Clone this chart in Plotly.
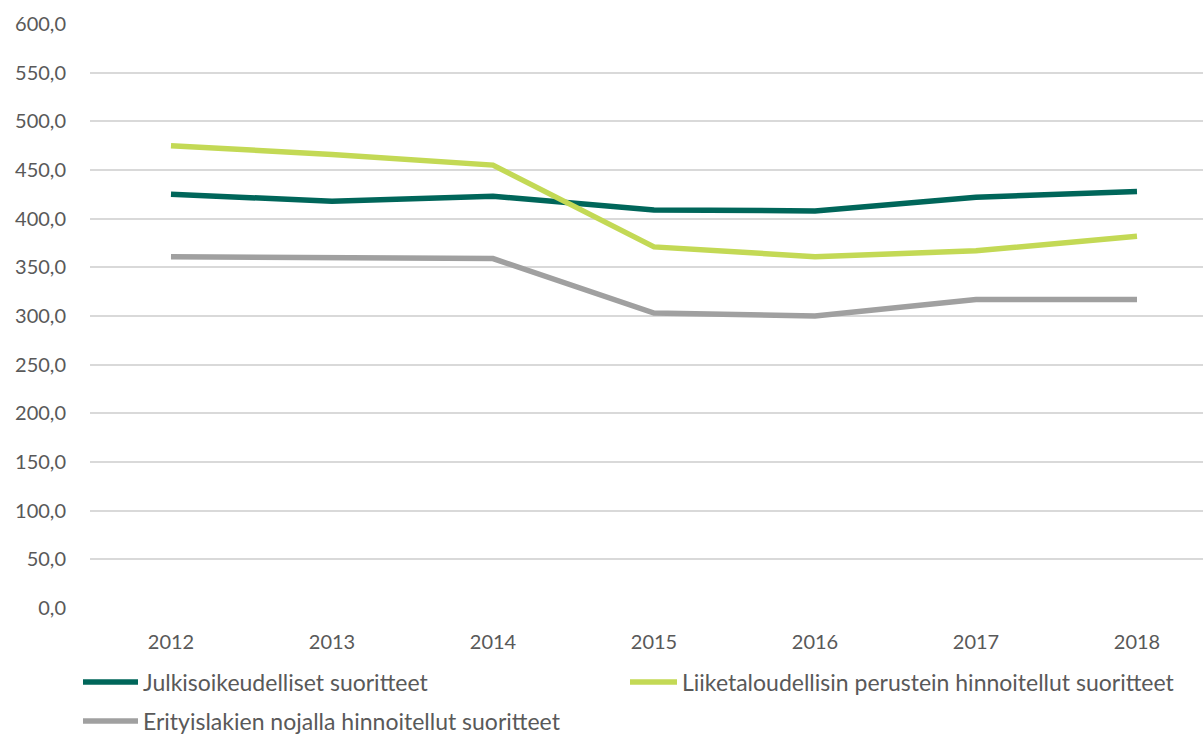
import plotly.graph_objects as go

years = ["2012", "2013", "2014", "2015", "2016", "2017", "2018"]
julkis = [425, 418, 423, 409, 408, 422, 428]
liike = [475, 466, 455, 371, 361, 367, 382]
erity = [361, 360, 359, 303, 300, 317, 317]

names = ["Julkisoikeudelliset suoritteet",
         "Liiketaloudellisin perustein hinnoitellut suoritteet",
         "Erityislakien nojalla hinnoitellut suoritteet"]
colors = ["#00665A", "#C3D955", "#A0A0A0"]

W, H = 1203, 736
fig = go.Figure()
for vals, nm, col in zip([julkis, liike, erity], names, colors):
    fig.add_trace(go.Scatter(x=years, y=vals, name=nm, mode="lines",
                             line=dict(color=col, width=5.5), showlegend=False))

# custom legend (paper coordinates)
leg_pos = [(83, 138, 682), (630, 677, 682), (83, 138, 721)]
for (x0, x1, yy), nm, col in zip(leg_pos, names, colors):
    fig.add_shape(type="line", xref="paper", yref="paper",
                  x0=(x0 - 90) / (W - 90), x1=(x1 - 90) / (W - 90),
                  y0=(608 - yy) / (608 - 24), y1=(608 - yy) / (608 - 24),
                  line=dict(color=col, width=5.5))
    fig.add_annotation(xref="paper", yref="paper",
                       x=(x1 + 3 - 90) / (W - 90), y=(608 - yy) / (608 - 24),
                       xanchor="left", yanchor="middle", showarrow=False,
                       text=nm, font=dict(size=23, color="#595959"))

fig.update_layout(
    width=W, height=H,
    margin=dict(l=90, r=0, t=24, b=128, autoexpand=False),
    plot_bgcolor="white", paper_bgcolor="white",
    separators=", ",
    font=dict(family="Lato, Open Sans, sans-serif", color="#595959", size=20),
    showlegend=False,
)
fig.update_xaxes(type="category", range=[-0.503, 6.41], showgrid=False,
                 showline=False, ticks="", ticklabelstandoff=20)
fig.update_yaxes(range=[0, 600], dtick=50, tickformat=".1f",
                 gridcolor="#D9D9D9", gridwidth=1.5, zeroline=False,
                 showline=False, ticks="", ticklabelstandoff=23)

fig.write_html("out.html", config={"displayModeBar": False},
               post_script="document.body.style.margin='0';document.body.style.padding='0';")
